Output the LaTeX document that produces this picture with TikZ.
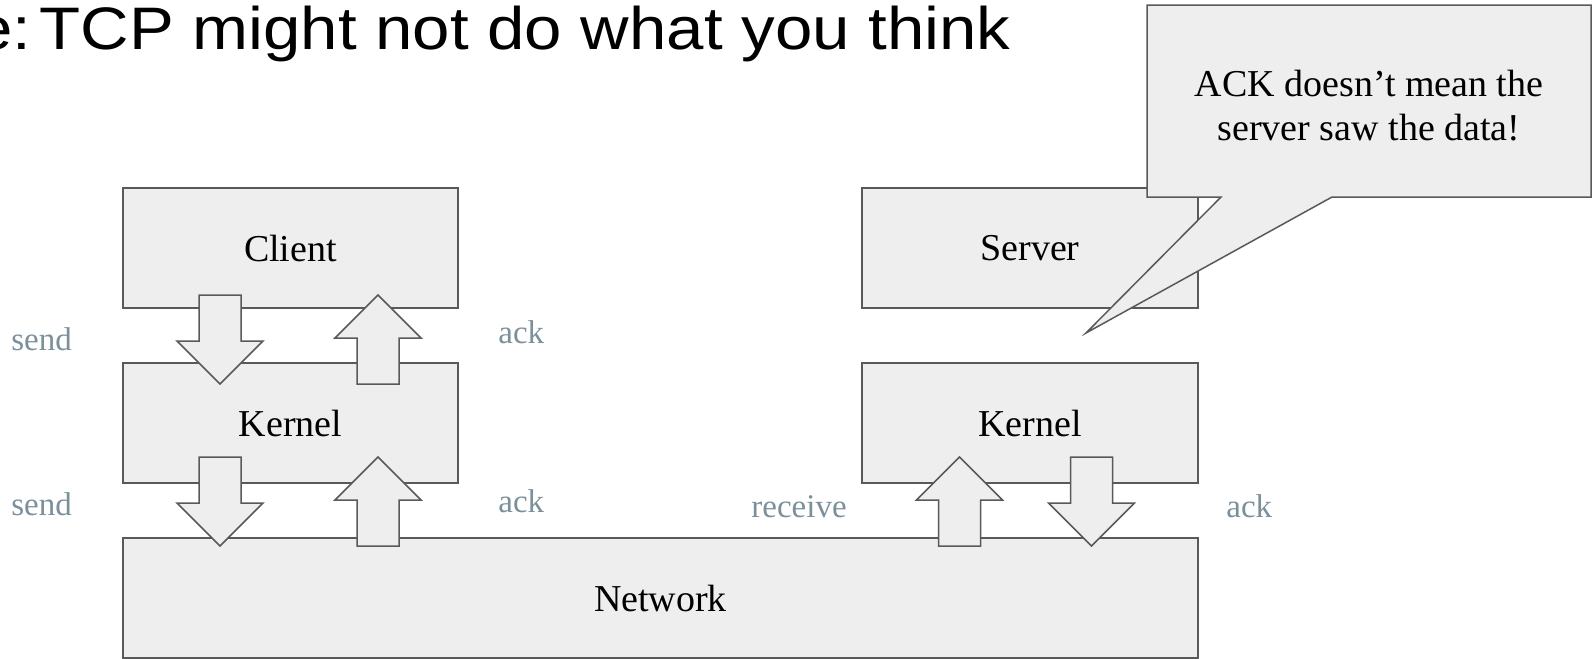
\documentclass[tikz,border=0pt]{standalone}
\usepackage{fontspec}
\setmainfont{Liberation Serif}
\newfontfamily\titlefont{Liberation Sans}
\definecolor{boxfill}{HTML}{EEEEEE}
\definecolor{boxline}{HTML}{595959}
\definecolor{labelcol}{HTML}{7C909B}
\tikzset{
  layerbox/.style={draw=boxline, fill=boxfill, line width=0.75pt, rectangle,
    inner sep=0pt, outer sep=0pt, minimum width=#1, minimum height=60pt,
    font=\fontsize{19}{22}\selectfont},
  arrowshape/.style={draw=boxline, fill=boxfill, line width=0.75pt, line join=miter},
  steplabel/.style={text=labelcol, anchor=base west, inner sep=0pt,
    font=\fontsize{16.5}{19}\selectfont},
  pics/downarrow/.style={code={
    \draw[arrowshape] (-21,0) -- (21,0) -- (21,46) -- (43,46) -- (0,89)
      -- (-43,46) -- (-21,46) -- cycle;}},
  pics/uparrow/.style={code={
    \draw[arrowshape] (0,0) -- (43,43) -- (21,43) -- (21,89) -- (-21,89)
      -- (-21,43) -- (-43,43) -- cycle;}},
}
\begin{document}
\begin{tikzpicture}[x=0.5pt, y=-0.5pt]
\useasboundingbox (0,0) rectangle (1592,659);
\clip (0,0) rectangle (1592,659);

% heading, slightly widened
\node[anchor=base east, inner sep=0pt, font=\titlefont\fontsize{30}{34}\selectfont]
  (title) at (1011,49) {\scalebox{1.12}[1]{e: \kern-0.25em TCP might not do what you think}};

% layers
\node[layerbox=167.5pt] (client)  at (290.5,248) {Client};
\node[layerbox=167.5pt] (kernelL) at (290.5,423) {Kernel};
\node[layerbox=168pt]   (server)  at (1030,248) {Server};
\node[layerbox=168pt]   (kernelR) at (1030,423) {Kernel};
\node[layerbox=537.5pt] (network) at (660.5,598) {Network};

% client side: send goes down, ack comes up
\pic (sendA) at (220,295) {downarrow};
\pic (ackA)  at (378,295) {uparrow};
\pic (sendB) at (220,457) {downarrow};
\pic (ackB)  at (378,457) {uparrow};

% server side
\pic (recvC) at (959.5,457) {uparrow};
\pic (ackC)  at (1091.5,457) {downarrow};

% labels
\node[steplabel] (lsend1) at (11,350) {send};
\node[steplabel] (lsend2) at (11,515) {send};
\node[steplabel] (lack1)  at (498,343) {ack};
\node[steplabel] (lack2)  at (498,512) {ack};
\node[steplabel] (lrecv)  at (751,517) {receive};
\node[steplabel] (lack3)  at (1226,517) {ack};

% speech bubble
\coordinate (tip) at (1086,333);
\draw[arrowshape] (1147,5) -- (1591,5) -- (1591,197) -- (1332,197) -- (tip)
  -- (1221,197) -- (1147,197) -- cycle;
\node[align=center, inner sep=0pt, font=\fontsize{19}{22}\selectfont]
  (note) at (1369,106) {ACK doesn’t mean the\\server saw the data!};
\end{tikzpicture}
\end{document}
